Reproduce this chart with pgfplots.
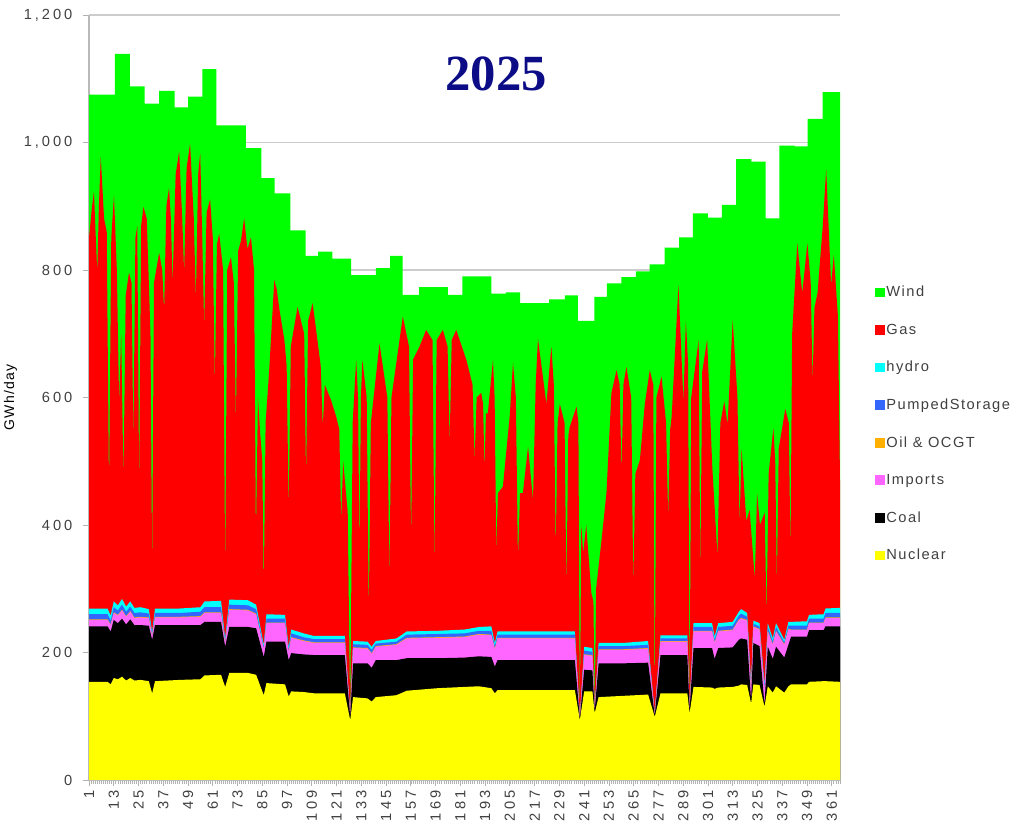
\documentclass[border=0pt]{standalone}
\usepackage{pgfplots}
\pgfplotsset{compat=1.18}
\usepackage{pgfplotstable}
\usepackage{fontspec}
\setmainfont{Liberation Sans}[LetterSpace=10]
\newfontfamily\tickfont{Liberation Sans}[LetterSpace=20]
\newfontfamily\titlefont{Liberation Serif}
\definecolor{windc}{RGB}{0,255,0}
\definecolor{gasc}{RGB}{255,0,0}
\definecolor{hydroc}{RGB}{0,255,255}
\definecolor{pumpc}{RGB}{51,102,255}
\definecolor{oilc}{RGB}{255,176,0}
\definecolor{impc}{RGB}{255,102,255}
\definecolor{coalc}{RGB}{0,0,0}
\definecolor{nucc}{RGB}{255,255,0}
\definecolor{titleblue}{RGB}{12,12,135}

% lower layers: daily values (GWh/day) per source
\pgfplotstableread{
day nuc coal imp oil pump hydro
1 154 87 10 1 8 9
10 154 87 10 1 8 9
11.5 150 83 10 1 6 8
13 160 91 11 1 8 9
15 158 88 12 1 7 8
17 162 91 13 1 8 9
19 156 88 12 1 7 8
21 160 92 12 1 7 8
23 156 87 11 1 7 8
26 157 86 12 1 7 8
30 155 87 12 1 6 7
31.6 136 84 6 0 3 3
33 155 88 12 1 6 7
45 157 86 12 1 6 7
55 158 85 13 1 7 7
57 164 84 14 1 8 9
65 165 83 14 1 8 10
67 146 63 6 0 3 4
69 168 72 27 1 7 8
78 168 72 26 1 7 8
82 165 73 22 1 7 7
85.7 133 60 12 0 3 4
87 152 65 29 1 6 7
96 150 67 29 1 6 6
97.8 131 57 12 0 4 4
99 139 60 24 1 6 6
105 138 59 21 1 5 6
110 136 60 19 1 5 5
125 136 60 19 1 5 5
127.6 94 6 2 0 1 1
129 130 53 24 1 5 5
136 128 55 23 1 5 5
138 123 53 22 1 5 5
140 130 58 21 1 4 4
150 133 55 24 1 4 5
155 140 51 31 1 5 5
170 144 47 32 1 5 5
183 146 46 32 1 5 6
190 147 47 34 1 5 6
196 144 49 34 1 6 7
197.7 136 42 27 1 4 5
199 141 47 34 1 5 5
236.5 141 47 34 1 5 5
238.9 94 2 2 0 1 1
241 139 34 23 1 6 6
245 139 33 23 1 5 6
246.1 105 3 2 0 1 1
248 130 53 21 1 5 5
260 132 51 21 1 5 5
272 134 50 22 1 5 6
275.2 99 2 2 0 1 1
278 136 60 21 1 4 5
291 136 60 21 1 4 5
292.1 105 5 3 0 1 2
294 146 61 26 1 6 6
303 145 62 26 1 6 6
304.2 143 47 25 1 4 5
306 145 62 26 1 6 6
313 146 62 27 1 6 6
316 148 72 31 1 6 6
317.1 150 72 31 1 7 7
320 149 71 30 1 5 6
321.9 120 5 15 0 5 5
323 150 65 25 1 4 5
326 149 61 26 1 4 5
328.4 115 3 22 0 5 5
330 147 62 24 1 6 6
332.4 137 53 22 1 4 5
334 147 62 24 1 6 6
338 137 55 20 1 3 4
340 147 65 24 1 5 6
341.3 150 75 10 1 6 6
349 150 75 10 1 6 7
350 154 81 11 1 6 6
357 155 80 11 1 6 7
358 155 86 13 1 7 7
365 154 87 13 1 7 8
}\basedata

\begin{document}
\begin{tikzpicture}
\useasboundingbox (0,0) rectangle (774pt,628.5pt);
\begin{axis}[
  at={(66.75pt,43.5pt)}, anchor=south west,
  scale only axis, width=563.25pt, height=573.75pt,
  xmin=1, xmax=365, ymin=0, ymax=1200,
  axis lines*=left,
  axis line style={-, draw=gray!55, line width=1.1pt},
  ymajorgrids, grid style={gray!40, line width=1.2pt},
  ytick={0,200,...,1200},
  xtick={1,13,...,361},
  minor xtick={1,...,365},
  tick align=outside,
  major tick length=4.5pt, minor tick length=3pt,
  tick style={gray!60, line width=0.6pt},
  minor tick style={gray!60, line width=0.5pt},
  /pgf/number format/1000 sep={,},
  /pgf/number format/assume math mode=true,
  scaled y ticks=false,
  yticklabel style={font=\tickfont\fontsize{11}{13}\selectfont, text=black!75, xshift=-4.5pt},
  xticklabel style={rotate=90, anchor=east, font=\tickfont\fontsize{11}{13}\selectfont, text=black!75},
  ylabel={GWh/day},
  ylabel style={at={(rel axis cs:-0.1045,0.5)}, anchor=center, font=\fontsize{10.5}{12}\selectfont},
  title={\titlefont\bfseries\fontsize{38}{40}\selectfont\textcolor{titleblue}{2025}},
  title style={at={(rel axis cs:0.542,0.912)}, anchor=center},
  legend cell align=left,
  legend image code/.code={\fill[#1] (0pt,-3.7pt) rectangle (7.5pt,3.7pt);},
  legend style={at={(1.041,0.651)}, anchor=north west, draw=none, fill=none,
    font=\fontsize{11}{13}\selectfont, text=black!75, row sep=16.8pt,
    nodes={inner sep=1pt}},
]
% total = top of wind
\addplot[fill=windc, draw=none, const plot] coordinates {
(1,1075) (13.6,1139) (20.8,1088) (28,1061) (35,1081) (42.5,1055) (49,1072) (56,1115)
(62.7,1027) (77,991) (84.5,944) (91,920) (98.6,862) (106,822) (112,829) (119,818)
(128,792) (140,803) (147,822) (153,761) (161,773) (175,761) (182,790) (196,763)
(203,765) (210,748) (224,754) (231.6,760) (238,720) (246,758) (252,779) (259,789)
(266,798) (272.7,809) (280,835) (287,851) (293.7,889) (301,882) (307.7,902) (314.6,974)
(322,970) (329,881) (335.6,995) (343,994) (349.3,1037) (356.6,1079) (365,1060)
} \closedcycle;
\addlegendentry{Wind}
% top of gas
\addplot[fill=gasc, draw=none] coordinates {
(1,851) (2.5,900) (3.4,923) (4.3,850) (5,796) (5.8,900) (6.7,977) (8.3,881) (9.6,860)
(10.7,453) (11.8,850) (13.1,917) (14.5,800) (15.6,592) (16.6,700) (17.7,471) (18.8,760)
(20.4,796) (21.6,780) (22.5,531) (23.5,850) (24.4,869) (25.3,459) (26.3,870) (27.4,899)
(29,880) (30.8,700) (31.6,333) (32.5,780) (35,827) (36.5,800) (37.4,736) (38.5,900)
(39.8,929) (40.7,880) (41.5,778) (43,950) (44.7,986) (46.2,880) (47.1,796) (48.3,960)
(50,998) (51.8,880) (52.8,754) (53.9,950) (54.9,983) (55.9,850) (56.8,712) (58,890)
(59.7,911) (61,850) (62,622) (63,840) (64.1,857) (66,800) (67,320) (68,800) (69.8,820)
(71.2,780) (72.2,561) (73.3,830) (74.6,845) (76.2,881) (77.8,833) (79.5,851) (81,800)
(81.9,381) (82.9,600) (84,543) (85,500) (85.7,296) (86.6,560) (88.4,646) (90.8,784)
(92,770) (93.2,740) (95.7,690) (96.8,650) (97.8,419) (98.8,680) (102.1,742) (105.3,700)
(106.2,471) (107.2,720) (109.4,748) (113.3,650) (114.3,554) (115.3,620) (118.3,596)
(120.8,570) (122.3,550) (123.2,408) (124.2,500) (126.4,420) (127.6,99) (128.8,560)
(130.5,659) (131.4,600) (132.1,356) (132.8,600) (133.5,659) (135.6,600) (136.6,256)
(137.6,560) (141.8,685) (145.6,600) (146.6,314) (147.6,600) (153.1,727) (156.1,680)
(157.1,376) (158.1,660) (161.2,680) (164.4,706) (167.5,690) (168.5,329) (169.5,690)
(172.5,706) (174.8,680) (175.8,528) (176.8,690) (179,706) (183.9,659) (186.9,620)
(187.9,502) (188.9,600) (191.1,607) (192,590) (192.7,486) (193.4,575) (194.3,575)
(196.8,659) (197.6,600) (198.4,356) (199.2,450) (201.6,460) (204.9,570) (206.5,654)
(207.9,600) (208.9,345) (209.9,450) (211.3,450) (213.8,523) (216.2,439) (217.5,620)
(218.6,692) (222.7,590) (225.1,680) (226.3,620) (227.2,356) (228.1,560) (229.2,590)
(231.5,560) (232.4,298) (233.3,540) (234,554) (237.3,586) (238.2,560) (238.9,94)
(239.6,400) (240.5,356) (242,400) (244.5,293) (245.5,280) (246.1,105) (246.8,300)
(249.4,376) (251.8,450) (254.2,607) (256.7,643) (258.2,620) (259.1,481) (260,620)
(261.5,648) (263.8,600) (264.8,303) (265.8,480) (268,502) (270.4,590) (272.8,643)
(274.5,620) (275.2,99) (276,600) (278.5,633) (280.7,560) (281.7,412) (282.7,550)
(283.4,570) (286.7,776) (289.1,594) (290.3,721) (291.4,650) (292.1,105) (292.9,600)
(296.5,691) (297.3,321) (298.2,640) (300.6,691) (303.1,491) (305.6,352) (307,560)
(308.9,594) (310.5,558) (313,721) (315.3,600) (316.3,400) (317.3,520) (319.6,406)
(321.2,424) (323.7,315) (324.8,450) (326.2,400) (328.5,420) (329.4,255) (330.4,480)
(332.7,552) (333.6,500) (334.4,309) (335.3,520) (338.5,582) (340.2,560) (341,352)
(341.8,700) (344.3,842) (346.7,764) (349.2,842) (350.8,780) (351.7,624) (352.6,740)
(354.1,764) (356.6,867) (358.3,958) (360.7,776) (362,824) (364,727) (365,470)
} \closedcycle;
\addlegendentry{Gas}
\addplot[fill=hydroc, draw=none] table[x=day, y expr=\thisrow{nuc}+\thisrow{coal}+\thisrow{imp}+\thisrow{oil}+\thisrow{pump}+\thisrow{hydro}] {\basedata} \closedcycle;
\addlegendentry{hydro}
\addplot[fill=pumpc, draw=none] table[x=day, y expr=\thisrow{nuc}+\thisrow{coal}+\thisrow{imp}+\thisrow{oil}+\thisrow{pump}] {\basedata} \closedcycle;
\addlegendentry{PumpedStorage}
\addplot[fill=oilc, draw=none] table[x=day, y expr=\thisrow{nuc}+\thisrow{coal}+\thisrow{imp}+\thisrow{oil}] {\basedata} \closedcycle;
\addlegendentry{Oil \& OCGT}
\addplot[fill=impc, draw=none] table[x=day, y expr=\thisrow{nuc}+\thisrow{coal}+\thisrow{imp}] {\basedata} \closedcycle;
\addlegendentry{Imports}
\addplot[fill=coalc, draw=none] table[x=day, y expr=\thisrow{nuc}+\thisrow{coal}] {\basedata} \closedcycle;
\addlegendentry{Coal}
\addplot[fill=nucc, draw=none] table[x=day, y=nuc] {\basedata} \closedcycle;
\addlegendentry{Nuclear}
\end{axis}
\end{tikzpicture}
\end{document}
